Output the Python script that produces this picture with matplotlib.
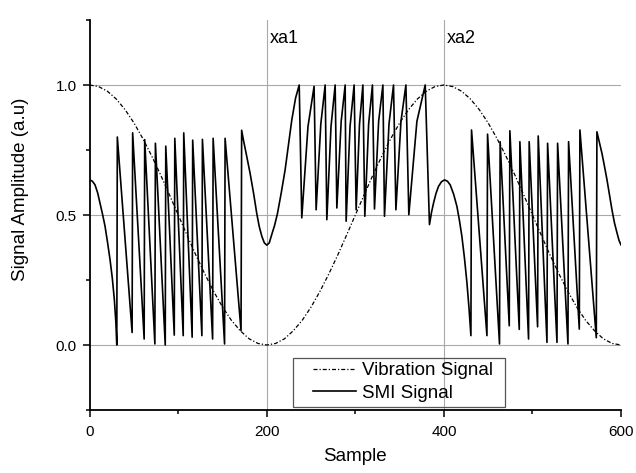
import matplotlib
matplotlib.use("Agg")
import matplotlib.pyplot as plt
from matplotlib.ticker import MultipleLocator, FixedLocator
from matplotlib.patches import Rectangle

plt.rcParams['font.family'] = ['Liberation Sans', 'DejaVu Sans']

# ---- data ----
vib_x = list(range(0, 601, 10))
vib_y = [1.0, 0.994, 0.976, 0.946, 0.905, 0.854, 0.794, 0.727, 0.655, 0.578,
         0.5, 0.422, 0.345, 0.273, 0.206, 0.146, 0.095, 0.055, 0.024, 0.006,
         0.0, 0.006, 0.024, 0.055, 0.095, 0.146, 0.206, 0.273, 0.345, 0.422,
         0.5, 0.578, 0.655, 0.727, 0.794, 0.854, 0.905, 0.946, 0.976, 0.994,
         1.0, 0.994, 0.976, 0.946, 0.905, 0.854, 0.794, 0.727, 0.655, 0.578,
         0.5, 0.422, 0.345, 0.273, 0.206, 0.146, 0.095, 0.055, 0.024, 0.006, 0.0]

smi_x = [0, 3, 6, 9, 11.6, 14.5, 17.3, 20, 22.9, 25.5, 27.8, 29.5, 30.6, 31.2,
         47.9, 48.5, 61.5, 62.1, 73.6, 74.2, 85.3, 85.9, 95.5, 96.1,
         105.6, 106.2, 115.7, 116.3, 126.7, 127.3, 138.8, 139.4, 152.3, 152.9,
         170.9, 171.6,
         173.5, 175.5, 178.3, 181.1, 185.0, 188.7, 191.5, 194.4, 197.2, 200,
         202.8, 205.6, 208.8, 212, 216.3, 220.7, 224.5, 228.2, 232.5, 236.6,
         239.5, 246.5, 253.4, 255.7, 261.0, 265.9, 267.8, 272.5, 277.2,
         279.1, 284.0, 288.5, 289.6, 294.0, 298.6, 300.9, 304.7, 308.5,
         310.7, 315.0, 319.3, 321.6, 326.3, 331.1, 332.9, 338.0, 343.1,
         345.8, 351.5, 357.1, 360.4, 369.5, 378.9, 383.7,
         386.0, 388.3, 391.0, 393.9, 397.3, 400.7, 404.0, 407.1, 411.0, 414.7,
         417.5, 420.3, 423.2, 426, 428.4, 430.5, 431.2,
         448.6, 449.3, 462.8, 463.5, 473.8, 474.5, 485.1, 485.8, 495.6, 496.3,
         505.8, 506.5, 516.4, 517.1, 527.7, 528.4, 540.1, 540.8, 552.9, 553.6,
         572.1, 572.8,
         575.6, 578.5, 581.3, 584.2, 587.0, 589.8, 592.6, 595.5, 597.8, 600]
smi_y = [0.635, 0.630, 0.616, 0.585, 0.546, 0.503, 0.457, 0.398, 0.33, 0.258, 0.176, 0.09, 0.0, 0.80,
         0.048, 0.816, 0.023, 0.79, 0.004, 0.776, 0.0, 0.765, 0.038, 0.795,
         0.036, 0.816, 0.03, 0.788, 0.036, 0.791, 0.023, 0.795, 0.004, 0.795,
         0.055, 0.826,
         0.79, 0.757, 0.708, 0.661, 0.585, 0.505, 0.455, 0.418, 0.393, 0.384,
         0.393, 0.425, 0.46, 0.505, 0.585, 0.674, 0.772, 0.865, 0.95, 1.0,
         0.489, 0.84, 0.995, 0.52, 0.85, 1.0, 0.482, 0.84, 1.0,
         0.527, 0.86, 1.0, 0.476, 0.84, 1.0, 0.52, 0.85, 1.0,
         0.495, 0.85, 1.0, 0.523, 0.86, 1.0, 0.495, 0.85, 1.0,
         0.52, 0.86, 1.0, 0.501, 0.86, 1.0, 0.463,
         0.51, 0.546, 0.582, 0.61, 0.628, 0.635, 0.630, 0.616, 0.58, 0.533,
         0.48, 0.418, 0.335, 0.24, 0.14, 0.036, 0.827,
         0.036, 0.811, 0.004, 0.782, 0.074, 0.824, 0.06, 0.782, 0.023, 0.782,
         0.07, 0.804, 0.01, 0.776, 0.01, 0.776, 0.004, 0.782, 0.061, 0.827,
         0.028, 0.82,
         0.78, 0.737, 0.688, 0.635, 0.578, 0.52, 0.47, 0.431, 0.402, 0.385]

x_ticks = [0, 200, 400, 600]
y_ticks = [0.0, 0.5, 1.0]
y_tick_labels = ['0.0', '0.5', '1.0']
markers = [(200, 'xa1'), (400, 'xa2')]
legend_labels = ['Vibration Signal', 'SMI Signal']

W, H = 636, 473
fig = plt.figure(figsize=(W / 100, H / 100), dpi=100)
ax = fig.add_axes([89.7 / W, 1 - 410 / H, (621 - 89.7) / W, (410 - 20) / H])

ax.set_xlim(0, 600)
ax.set_ylim(-0.25, 1.25)

grid_kw = dict(color='#a9a9a9', lw=0.8, zorder=0)
for yv in y_ticks:
    ax.axhline(yv, **grid_kw)
for xv, _ in markers:
    ax.axvline(xv, **grid_kw)

l1, = ax.plot(vib_x, vib_y, color='black', lw=0.9,
              linestyle=(0, (3.2, 1.6, 1, 1.6)), zorder=2)
l2, = ax.plot(smi_x, smi_y, color='black', lw=1.2, zorder=3)

for xv, txt in markers:
    ax.text(xv + 3, 1.178, txt, fontsize=13, ha='left', va='center')

for s in ['top', 'right']:
    ax.spines[s].set_visible(False)
for s in ['left', 'bottom']:
    ax.spines[s].set_linewidth(1.3)

ax.set_xticks(x_ticks)
ax.set_yticks(y_ticks)
ax.set_yticklabels(y_tick_labels)
ax.xaxis.set_minor_locator(MultipleLocator(100))
ax.yaxis.set_minor_locator(FixedLocator([-0.25, 0.25, 0.75, 1.25]))
ax.tick_params(which='major', direction='out', length=5, width=1.1, labelsize=11)
ax.tick_params(which='minor', direction='out', length=3, width=1.1)
ax.tick_params(axis='x', which='major', pad=6)
ax.tick_params(axis='y', which='major', pad=4.5)

ax.set_xlabel('Sample', fontsize=13.5, labelpad=6)
ax.set_ylabel('Signal Amplitude (a.u)', fontsize=13.5)
ax.yaxis.set_label_coords(-0.114, 0.567)

leg = ax.legend([l1, l2], legend_labels, frameon=False, loc='upper left',
                bbox_to_anchor=(313 / W, 1 - 362 / H), bbox_transform=fig.transFigure,
                borderpad=0, borderaxespad=0, handlelength=2.3, handletextpad=0.3,
                labelspacing=0.3, fontsize=13.5)
fig.patches.append(Rectangle((293 / W, 1 - 407 / H), 212 / W, 49 / H,
                             transform=fig.transFigure, fill=False,
                             edgecolor='#555555', lw=0.9))

fig.savefig('out.png', dpi=100)
